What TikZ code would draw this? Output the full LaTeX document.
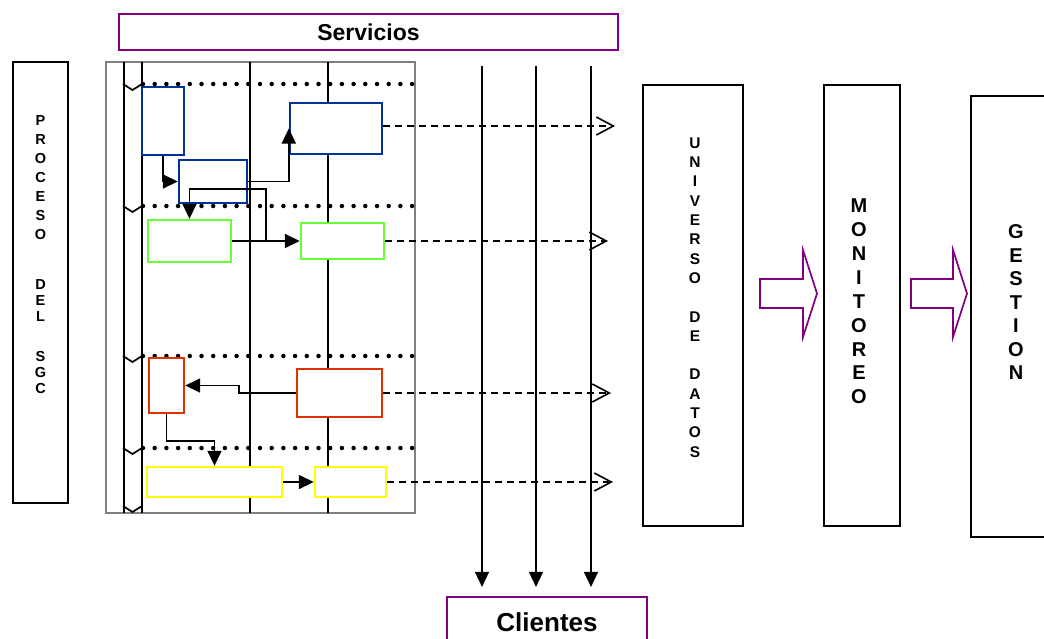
\documentclass[tikz,border=0pt]{standalone}
\usepackage{fontspec}
\setmainfont{Liberation Sans}
\usetikzlibrary{arrows.meta, positioning, calc}
\definecolor{frameGray}{RGB}{128,128,128}
\definecolor{srvPurple}{RGB}{128,0,128}
\definecolor{stepBlue}{RGB}{0,51,153}
\definecolor{stepGreen}{RGB}{102,255,51}
\definecolor{stepRed}{RGB}{221,51,0}
\definecolor{stepYellow}{RGB}{255,255,0}

\begin{document}
\begin{tikzpicture}[
    x=1pt, y=-1pt,
    bigbox/.style={rectangle, draw=black, line width=2pt, fill=white, inner sep=0pt},
    endbox/.style={rectangle, draw=srvPurple, line width=2.2pt, fill=white, inner sep=0pt},
    vtext/.style={align=center, inner sep=0pt},
    task/.style={rectangle, draw, line width=2.4pt, fill=white, inner sep=0pt},
    arrow/.style={-{Triangle[length=15pt,width=14pt]}, line width=1.6pt},
    dasharrow/.style={-{Straight Barb[length=17pt,width=18pt]}, line width=1.6pt, dash pattern=on 7pt off 5pt},
    dotrow/.style={line width=4.5pt, line cap=round, dash pattern=on 0pt off 11.7pt},
    hollow/.style={draw=srvPurple, line width=1.7pt, fill=white}
]
\useasboundingbox (0,0) rectangle (1044,638);
\clip (0,0) rectangle (1044,638);

% Servicios / Clientes
\node[endbox, minimum width=499pt, minimum height=36pt, font=\fontsize{23}{27}\selectfont\bfseries] (servicios) at (368.5,32) {Servicios};
\node[endbox, minimum width=200pt, minimum height=50pt, font=\fontsize{26}{30}\selectfont\bfseries] (clientes) at (547,622) {Clientes};

% Proceso del SGC
\node[bigbox, minimum width=55pt, minimum height=441pt] (proceso) at (40.5,282.5) {};
\node[vtext, font=\bfseries\fontsize{14.5}{19}\selectfont] (procesoTxt) at ($(proceso.center)+(0,-27.5)$)
    {P\\R\\O\\C\\E\\S\\O\\[31pt]D\\[-3pt]E\\[-3pt]L\\[21pt]S\\[-3pt]G\\[-3pt]C};

% Swimlanes
\node[draw=frameGray, line width=1.4pt, minimum width=309pt, minimum height=451pt, inner sep=0pt] (lanes) at (260.5,287.5) {};
\foreach \x/\w in {124/1.1pt, 142/1.7pt, 250/1.7pt, 328/1.1pt}
    \draw[line width=\w] (\x,62) -- (\x,513);
\foreach \y in {84,206,356,448}
    \draw[dotrow] (143,\y) -- (416,\y);
\foreach \y in {84,206,356,448,506}
    \draw[line width=1.7pt] (123,\y) -- (132.5,\y+6) -- (142,\y);

% Tasks
\node[task, draw=stepBlue, minimum width=42pt, minimum height=68pt] (blueA) at (163,121) {};
\node[task, draw=stepBlue, minimum width=68pt, minimum height=43pt] (blueB) at (213,181.5) {};
\node[task, draw=stepBlue, minimum width=92pt, minimum height=51pt] (blueC) at (336,128.5) {};
\node[task, draw=stepGreen, minimum width=83pt, minimum height=42pt] (greenA) at (189.5,241) {};
\node[task, draw=stepGreen, minimum width=83pt, minimum height=36pt] (greenB) at (342.5,241) {};
\node[task, draw=stepRed, minimum width=35pt, minimum height=55pt] (redA) at (166.5,385.5) {};
\node[task, draw=stepRed, minimum width=85pt, minimum height=48pt] (redB) at (339.5,393) {};
\node[task, draw=stepYellow, minimum width=135pt, minimum height=30pt] (yellowA) at (214.5,482) {};
\node[task, draw=stepYellow, minimum width=71pt, minimum height=30pt] (yellowB) at (350.5,482) {};

% Task flow
\coordinate (join) at (266,241);
\draw[arrow] (blueA.south) |- (blueB.west);
\draw[arrow] (blueB.east) -| (blueC.west);
\draw[arrow] (greenA.east) -- (greenB.west);
\draw[arrow] (join) -- ++(0,-52) -| (greenA.north);
\draw[arrow] (redB.west) -- ++(-57,0) |- (redA.east);
\draw[arrow] (redA.south) -- ++(0,27) -| (yellowA.north);
\draw[arrow] (yellowA.east) -- (yellowB.west);

% Servicios to Clientes
\foreach \x [count=\i] in {482,536,591} {
    \coordinate (feed\i) at (\x,66);
    \draw[arrow, shorten >=9pt] (feed\i) -- (feed\i |- clientes.north);
}

% Data outputs
\coordinate (out1) at (615,126);
\coordinate (out2) at (608,241);
\coordinate (out3) at (611,393);
\coordinate (out4) at (613,482);
\draw[dasharrow] (blueC.east |- out1) -- (out1);
\draw[dasharrow] (greenB.east) -- (out2);
\draw[dasharrow] (redB.east) -- (out3);
\draw[dasharrow] (yellowB.east) -- (out4);

% Universo, Monitoreo, Gestion
\node[bigbox, minimum width=100pt, minimum height=441pt] (universo) at (693,305.5) {};
\node[vtext, font=\bfseries\fontsize{15.5}{19.3}\selectfont] (universoTxt) at ($(universo.center)+(2,-8)$)
    {U\\N\\I\\V\\E\\R\\S\\O\\[19.3pt]D\\E\\[19.3pt]D\\A\\T\\O\\S};
\node[bigbox, minimum width=76pt, minimum height=441pt] (monitoreo) at (862,305.5) {};
\node[vtext, font=\bfseries\fontsize{20}{23.9}\selectfont] (monitoreoTxt) at ($(monitoreo.center)+(-3,-4)$)
    {M\\O\\N\\I\\T\\O\\R\\E\\O};
\node[bigbox, minimum width=90pt, minimum height=441pt] (gestion) at (1016,316.5) {};
\node[vtext, font=\bfseries\fontsize{20}{23.5}\selectfont] (gestionTxt) at ($(gestion.center)+(0,-14)$)
    {G\\E\\S\\T\\I\\O\\N};

% Block arrows
\draw[hollow, shift={(760,279)}] (0,0) -- (43,0) -- (43,-29) -- (57,14.5) -- (43,58) -- (43,29) -- (0,29) -- cycle;
\draw[hollow, shift={(911,279)}] (0,0) -- (42,0) -- (42,-29) -- (56,14.5) -- (42,58) -- (42,29) -- (0,29) -- cycle;
\end{tikzpicture}
\end{document}
